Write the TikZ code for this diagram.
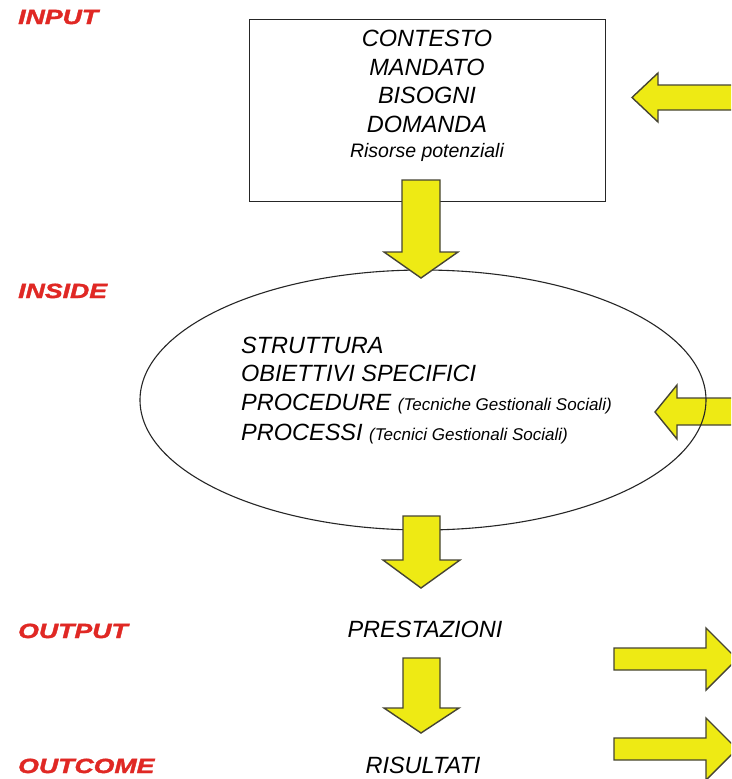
\documentclass[tikz,border=0pt]{standalone}
\usepackage{fontspec}
\setmainfont{Liberation Sans}
\newfontfamily\labfont[FakeStretch=1.3,FakeBold=1.8]{Liberation Sans}
\usetikzlibrary{shapes.geometric}
\definecolor{labred}{RGB}{224,40,36}
\definecolor{arrfill}{RGB}{238,234,20}
\definecolor{arredge}{RGB}{70,68,52}
\tikzset{
  lbl/.style={anchor=base west, inner sep=0, text=labred, font=\labfont\bfseries\itshape\fontsize{20.5}{24}\selectfont},
  big/.style={inner sep=0, font=\itshape\fontsize{23.5}{28}\selectfont},
  small/.style={inner sep=0, font=\itshape\fontsize{19.5}{24}\selectfont},
  blockarrow/.style={fill=arrfill, draw=arredge, line width=1.4pt, line join=miter},
  frame/.style={draw=black!85, line width=1.1pt},
}
\newcommand\paren[1]{{\fontsize{17}{20}\selectfont#1}}
\begin{document}
\begin{tikzpicture}[x=1pt,y=-1pt]
\path[use as bounding box] (0,0) rectangle (731,779);
\clip (0,0) rectangle (731,779);
\fill[white] (0,0) rectangle (731,779);

% labels
\node[lbl] (lin) at (18,24) {INPUT};
\node[lbl] (lins) at (18,298) {INSIDE};
\node[lbl] (lout) at (18,638) {OUTPUT};
\node[lbl] (loutc) at (18,773) {OUTCOME};

% input box
\node[frame, anchor=north west, minimum width=356, minimum height=182, inner sep=0] (box) at (249,19) {};
\node[big, anchor=base] (t1) at (427,46.5) {CONTESTO};
\node[big, anchor=base] (t2) at (427,75) {MANDATO};
\node[big, anchor=base] (t3) at (427,103) {BISOGNI};
\node[big, anchor=base] (t4) at (427,132) {DOMANDA};
\node[small, anchor=base] (t5) at (427,157) {Risorse potenziali};

% arrow into the inside ellipse (drawn under the ellipse line)
\draw[blockarrow] (745,398) -- (677,398) -- (677,385) -- (655,412) -- (677,439) -- (677,425) -- (745,425) -- cycle;

% inside ellipse
\node[frame, ellipse, minimum width=566, minimum height=260, inner sep=0] (ell) at (423,400) {};
\node[big, anchor=base west] (e1) at (241,353) {STRUTTURA};
\node[big, anchor=base west] (e2) at (241,381) {OBIETTIVI SPECIFICI};
\node[big, anchor=base west] (e3) at (241,410) {PROCEDURE \paren{(Tecniche Gestionali Sociali)}};
\node[big, anchor=base west] (e4) at (241,440) {PROCESSI \paren{(Tecnici Gestionali Sociali)}};

% down arrows
\draw[blockarrow] (402,180) -- (440,180) -- (440,252) -- (458,252) -- (421,278) -- (384,252) -- (402,252) -- cycle;
\draw[blockarrow] (403,516) -- (440,516) -- (440,560) -- (460,560) -- (421,588) -- (383,560) -- (403,560) -- cycle;
\draw[blockarrow] (403,658) -- (440,658) -- (440,708) -- (459,708) -- (421,733) -- (384,708) -- (403,708) -- cycle;

% outputs
\node[big, anchor=base] (p) at (425,637) {PRESTAZIONI};
\node[big, anchor=base] (r) at (423,773) {RISULTATI};

% side arrows
\draw[blockarrow] (745,85) -- (658,85) -- (658,73) -- (632,97.5) -- (658,122) -- (658,110) -- (745,110) -- cycle;
\draw[blockarrow] (614,648) -- (706,648) -- (706,628) -- (737,659) -- (706,690) -- (706,670) -- (614,670) -- cycle;
\draw[blockarrow] (614,738) -- (706,738) -- (706,718) -- (737,749) -- (706,780) -- (706,760) -- (614,760) -- cycle;
\end{tikzpicture}
\end{document}
